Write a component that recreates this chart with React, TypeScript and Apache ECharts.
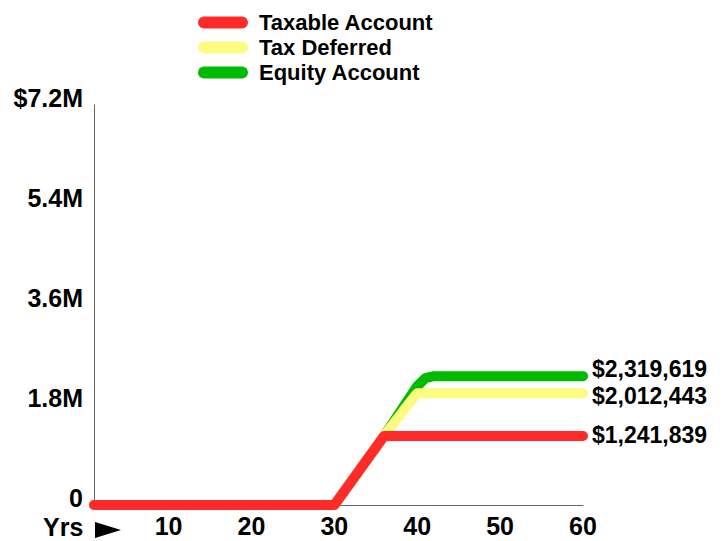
import React, { useEffect, useRef } from "react";
import * as echarts from "echarts";

// Years at which the projections change slope
const years = [1, 30, 31, 32, 33, 34, 35, 36, 37, 38, 39, 40, 41, 42, 60];

const taxable = [0, 0, 207000, 414000, 621000, 828000, 1035000, 1241839, 1241839, 1241839, 1241839, 1241839, 1241839, 1241839, 1241839];
const taxDeferred = [0, 0, 207000, 414000, 621000, 828000, 1035000, 1241839, 1440000, 1635000, 1830000, 2012443, 2012443, 2012443, 2012443];
const equity = [0, 0, 207000, 414000, 621000, 828000, 1035000, 1241839, 1465000, 1690000, 1915000, 2140000, 2285000, 2319619, 2319619];

const seriesNames = ["Taxable Account", "Tax Deferred", "Equity Account"];
const seriesColors = ["#ff2b2b", "#fcfc80", "#00bb00"];
const xTickValues = [10, 20, 30, 40, 50, 60];

const FONT = "'Liberation Sans', Arial, Helvetica, sans-serif";

const money = (v: number) => "$" + Math.round(v).toLocaleString("en-US");

export default function App() {
  const ref = useRef<HTMLDivElement>(null);

  useEffect(() => {
    if (!ref.current) return;
    const chart = echarts.init(ref.current, null, { renderer: "svg" });

    const makeSeries = (idx: number, values: number[], z: number, offsetY: number) => ({
      name: seriesNames[idx],
      type: "line",
      data: years.map((y, i) => [y, values[i]]),
      showSymbol: false,
      symbol: "none",
      z,
      color: seriesColors[idx],
      lineStyle: { width: 10, color: seriesColors[idx], cap: "round", join: "round" },
      endLabel: {
        show: true,
        distance: 9,
        offset: [0, offsetY],
        formatter: (p: any) => money(p.value[1]),
        color: "#000",
        fontFamily: FONT,
        fontWeight: "bold",
        fontSize: 23,
        lineHeight: 20,
      },
    });

    chart.setOption({
      animation: false,
      backgroundColor: "#fff",
      legend: {
        orient: "vertical",
        left: 193,
        top: 5,
        itemWidth: 50,
        itemHeight: 12,
        itemGap: 0,
        icon: "path://M6,0 H44 A6,6 0 0 1 44,12 H6 A6,6 0 0 1 6,0 Z",
        textStyle: {
          fontFamily: FONT,
          fontWeight: "bold",
          fontSize: 22,
          lineHeight: 25,
          color: "#000",
          padding: [0, 0, 0, 6],
        },
        data: seriesNames,
      },
      grid: { left: 94, right: 145, top: 105, bottom: 36 },
      xAxis: {
        type: "value",
        min: 1,
        max: 60,
        axisLine: { show: true, lineStyle: { color: "#666", width: 1 } },
        axisTick: { show: false },
        splitLine: { show: false },
        axisLabel: {
          customValues: xTickValues,
          margin: 8,
          color: "#000",
          fontFamily: FONT,
          fontWeight: "bold",
          fontSize: 25,
        },
      },
      yAxis: {
        type: "value",
        min: 0,
        max: 7200000,
        interval: 1800000,
        axisLine: { show: true, lineStyle: { color: "#666", width: 1 } },
        axisTick: { show: false },
        splitLine: { show: false },
        axisLabel: {
          margin: 11,
          color: "#000",
          fontFamily: FONT,
          fontWeight: "bold",
          fontSize: 25,
          verticalAlign: "bottom",
          lineHeight: 14,
          formatter: (v: number) => {
            if (v === 0) return "0";
            const s = (v / 1e6).toFixed(1) + "M";
            return v === 7200000 ? "$" + s : s;
          },
        },
      },
      graphic: [
        {
          type: "text",
          left: 43,
          top: 514,
          style: {
            text: "Yrs",
            fill: "#000",
            font: `bold 25px ${FONT}`,
          },
        },
        {
          type: "polygon",
          shape: { points: [[95, 522], [121, 530], [95, 538]] },
          style: { fill: "#000" },
        },
      ],
      series: [
        makeSeries(0, taxable, 4, -1),
        makeSeries(1, taxDeferred, 3, 3),
        makeSeries(2, equity, 2, -7),
      ],
    });

    return () => chart.dispose();
  }, []);

  return (
    <div
      ref={ref}
      style={{ position: "fixed", left: 0, top: 0, width: 728, height: 541 }}
    />
  );
}
